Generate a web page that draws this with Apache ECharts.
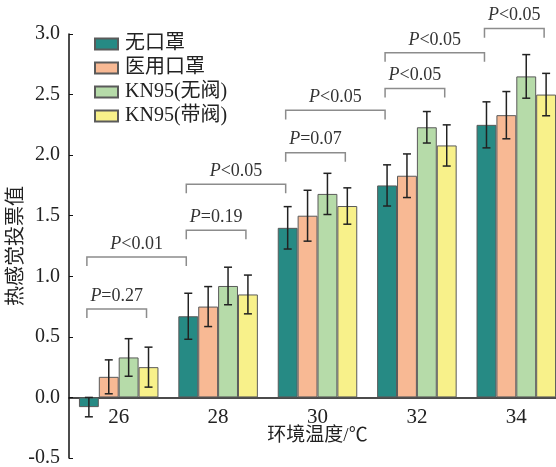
<!DOCTYPE html>
<html>
<head>
<meta charset="utf-8">
<script src="https://cdn.jsdelivr.net/npm/echarts@6/dist/echarts.min.js"></script>
<style>
  html, body { margin: 0; padding: 0; background: #fff; }
  #chart { width: 556px; height: 467px; }
</style>
</head>
<body>
<div id="chart"></div>
<script>
// Ambient temperature groups (°C)
const categories = ['26', '28', '30', '32', '34'];
const seriesNames = ['无口罩', '医用口罩', 'KN95(无阀)', 'KN95(带阀)'];

// Mean thermal sensation votes
const noMask      = [-0.08, 0.67, 1.40, 1.75, 2.25];
const medicalMask = [0.17, 0.75, 1.50, 1.83, 2.33];
const kn95NoValve = [0.33, 0.92, 1.68, 2.23, 2.65];
const kn95Valve   = [0.25, 0.85, 1.58, 2.08, 2.50];

// Error bar half-lengths
const noMaskErr      = [0.08, 0.19, 0.175, 0.17, 0.19];
const medicalMaskErr = [0.14, 0.165, 0.21, 0.18, 0.195];
const kn95NoValveErr = [0.155, 0.155, 0.17, 0.13, 0.18];
const kn95ValveErr   = [0.165, 0.16, 0.15, 0.17, 0.175];

// Y axis ticks
const yTicks = [-0.5, 0.0, 0.5, 1.0, 1.5, 2.0, 2.5, 3.0];

// Significance brackets: [category, bar slot] start / end, bracket level, label
const bracketFrom  = [[0, 0], [0, 0], [1, 0], [1, 0], [2, 0], [2, 0], [3, 0], [3, 0], [4, 0]];
const bracketTo    = [[0, 3], [1, 0], [1, 3], [2, 0], [2, 3], [3, 0], [3, 3], [4, 0], [4, 3]];
const bracketLevel = [0.73, 1.16, 1.38, 1.76, 2.02, 2.37, 2.55, 2.845, 3.045];
const bracketText  = ['=0.27', '<0.01', '=0.19', '<0.05', '=0.07', '<0.05', '<0.05', '<0.05', '<0.05'];

const colors = ['#268a84', '#f8b994', '#b6dba9', '#f8f18a'];
const values = [noMask, medicalMask, kn95NoValve, kn95Valve];
const errors = [noMaskErr, medicalMaskErr, kn95NoValveErr, kn95ValveErr];

const serif = "'Liberation Serif', 'Times New Roman', 'Noto Sans CJK SC', serif";
const SLOTS = 4;
const SLOT_FRAC = 0.2; // bar width as a fraction of the category band

function slotOffset(slot, band) {
  return (slot - (SLOTS - 1) / 2) * band * SLOT_FRAC;
}

const barSeries = values.map((vals, k) => ({
  name: seriesNames[k],
  type: 'bar',
  data: vals,
  barGap: '0%',
  barCategoryGap: '20%',
  itemStyle: { color: colors[k], borderColor: '#5a5a5a', borderWidth: 1 },
  z: 2
}));

const errData = [];
values.forEach((vals, k) => {
  vals.forEach((v, i) => errData.push([i, k, v, errors[k][i]]));
});

const errorSeries = {
  type: 'custom',
  silent: true,
  z: 5,
  encode: { x: 0, y: 2 },
  data: errData,
  renderItem(params, api) {
    const idx = api.value(0), slot = api.value(1), v = api.value(2), e = api.value(3);
    const band = api.size([1, 0])[0];
    const cx = api.coord([idx, v])[0] + slotOffset(slot, band);
    const yTop = api.coord([idx, v + e])[1];
    const yBot = api.coord([idx, v - e])[1];
    const cap = 4;
    const st = { stroke: '#222', lineWidth: 1.5 };
    return {
      type: 'group',
      children: [
        { type: 'line', shape: { x1: cx, y1: yTop, x2: cx, y2: yBot }, style: st },
        { type: 'line', shape: { x1: cx - cap, y1: yTop, x2: cx + cap, y2: yTop }, style: st },
        { type: 'line', shape: { x1: cx - cap, y1: yBot, x2: cx + cap, y2: yBot }, style: st }
      ]
    };
  }
};

const bracketData = bracketFrom.map((f, i) => [f[0], f[1], bracketTo[i][0], bracketTo[i][1], bracketLevel[i], i]);

const bracketSeries = {
  type: 'custom',
  silent: true,
  clip: false,
  z: 6,
  encode: { x: 0, y: 4 },
  data: bracketData,
  renderItem(params, api) {
    const fi = api.value(0), fs = api.value(1), ti = api.value(2), ts = api.value(3);
    const level = api.value(4), n = api.value(5);
    const band = api.size([1, 0])[0];
    const x1 = api.coord([fi, level])[0] + slotOffset(fs, band) - 2;
    const x2 = api.coord([ti, level])[0] + slotOffset(ts, band) - 2;
    const y = api.coord([fi, level])[1];
    const yLeg = api.coord([fi, level - 0.075])[1];
    return {
      type: 'group',
      children: [
        {
          type: 'polyline',
          shape: { points: [[x1, yLeg], [x1, y], [x2, y], [x2, yLeg]] },
          style: { stroke: '#8c8c8c', lineWidth: 1.5, fill: null }
        },
        {
          type: 'text',
          x: (x1 + x2) / 2,
          y: y - 13,
          style: {
            text: '{i|P}{n|' + bracketText[n] + '}',
            align: 'center',
            verticalAlign: 'middle',
            rich: {
              i: { fontFamily: serif, fontSize: 18, fontStyle: 'italic', fill: '#333' },
              n: { fontFamily: serif, fontSize: 18, fill: '#333' }
            }
          }
        }
      ]
    };
  }
};

const chart = echarts.init(document.getElementById('chart'), null, { renderer: 'canvas' });
chart.setOption({
  animation: false,
  backgroundColor: '#fff',
  grid: { left: 69, right: -10, top: 34, bottom: 9, containLabel: false, outerBoundsMode: 'none' },
  legend: {
    orient: 'vertical',
    left: 89,
    top: 29,
    itemWidth: 23,
    itemHeight: 11,
    itemGap: 4,
    icon: 'rect',
    data: seriesNames,
    textStyle: { fontFamily: serif, fontSize: 20, color: '#222', padding: [0, 0, 0, 2] }
  },
  xAxis: {
    type: 'category',
    data: categories,
    name: '环境温度/℃',
    nameLocation: 'middle',
    nameGap: -31,
    nameMoveOverlap: false,
    nameTextStyle: { fontFamily: serif, fontSize: 19, color: '#222' },
    axisLine: { onZero: true, lineStyle: { color: '#111', width: 1.5 } },
    axisTick: { inside: true, length: 3, lineStyle: { color: '#111' } },
    axisLabel: { fontFamily: serif, fontSize: 21, color: '#222', margin: -51 }
  },
  yAxis: {
    type: 'value',
    min: yTicks[0],
    max: yTicks[yTicks.length - 1],
    interval: 0.5,
    name: '热感觉投票值',
    nameLocation: 'middle',
    nameRotate: 90,
    nameGap: 42,
    nameMoveOverlap: false,
    nameTextStyle: { fontFamily: serif, fontSize: 20, color: '#222' },
    splitLine: { show: false },
    axisLine: { show: true, lineStyle: { color: '#111', width: 1.5 } },
    axisTick: { show: true, inside: true, length: 4, lineStyle: { color: '#111' } },
    axisLabel: {
      fontFamily: serif, fontSize: 20, color: '#222', margin: 9,
      formatter: v => v.toFixed(1)
    }
  },
  series: [...barSeries, errorSeries, bracketSeries]
});
</script>
</body>
</html>
